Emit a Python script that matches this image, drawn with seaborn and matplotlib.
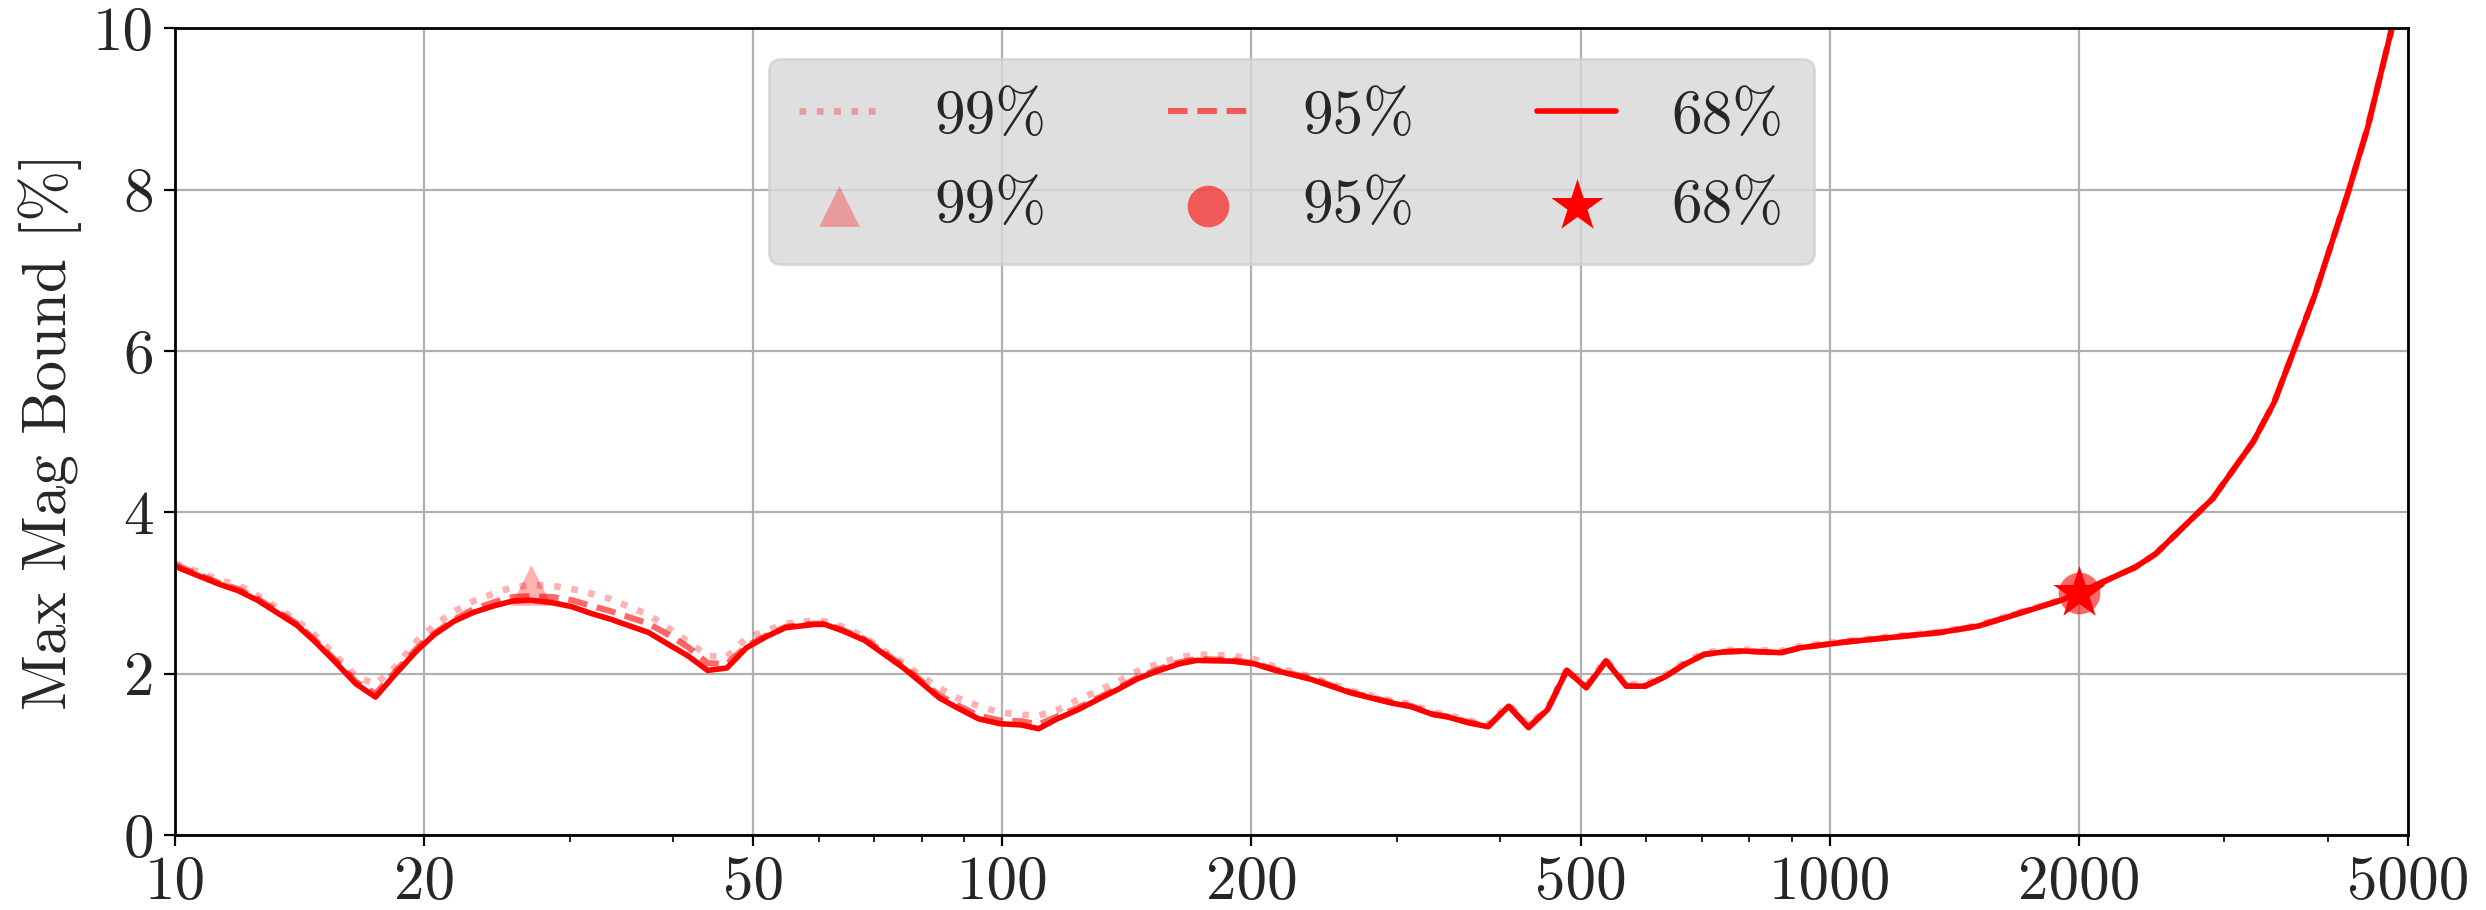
import numpy as np
import pandas as pd
import matplotlib
matplotlib.use("Agg")
import matplotlib.pyplot as plt
import seaborn as sns
from matplotlib.ticker import LogLocator, NullFormatter, FixedLocator

# ---------------- data ----------------
freq = [10.0, 11.33, 11.91, 12.58, 14.04, 14.82, 15.65, 16.54, 17.47, 18.45,
        19.58, 20.58, 21.74, 22.96, 24.37, 25.61, 26.91, 28.56, 30.17, 31.87,
        33.49, 37.36, 39.67, 41.69, 44.03, 46.45, 49.05, 51.8, 54.7, 59.25,
        61.05, 64.15, 68.1, 71.55, 75.96, 79.83, 83.9, 88.2, 93.6, 99.3,
        105.4, 110.6, 116.5, 123.6, 131.2, 137.9, 145.7, 153.8, 163.3, 171.6,
        189.5, 201.6, 213.9, 236.4, 263.6, 294.1, 312.1, 331.3, 344.8, 365.9,
        386.6, 409.2, 432.5, 456.3, 481.1, 507.9, 536.6, 567.8, 598.5, 632.1,
        667.6, 705.2, 744.7, 786.6, 873.0, 920.5, 1034.6, 1358.6, 1512.6, 1610.0,
        1909.5, 2000.0, 2342.0, 2478.0, 2904.0, 3253.0, 3443.0, 3644.0, 3857.0, 4223.0,
        4470.0, 4784.0, 5000.0]

bound_68 = [3.33, 3.105, 3.03, 2.91, 2.60, 2.38, 2.135, 1.875, 1.71, 1.99,
            2.28, 2.485, 2.65, 2.76, 2.845, 2.90, 2.91, 2.88, 2.83, 2.745,
            2.68, 2.51, 2.35, 2.22, 2.04, 2.07, 2.32, 2.457, 2.57, 2.61,
            2.61, 2.53, 2.415, 2.26, 2.07, 1.887, 1.70, 1.577, 1.44, 1.38,
            1.364, 1.317, 1.44, 1.556, 1.693, 1.804, 1.937, 2.03, 2.12, 2.164,
            2.155, 2.122, 2.04, 1.928, 1.763, 1.64, 1.59, 1.494, 1.465, 1.391,
            1.342, 1.597, 1.33, 1.556, 2.04, 1.825, 2.155, 1.845, 1.845, 1.96,
            2.114, 2.238, 2.27, 2.28, 2.26, 2.32, 2.387, 2.51, 2.59, 2.675,
            2.914, 3.0, 3.32, 3.485, 4.17, 4.88, 5.355, 6.02, 6.69, 7.93,
            8.77, 10.01, 10.7]

bound_95 = [3.35, 3.12, 3.05, 2.93, 2.62, 2.40, 2.16, 1.90, 1.75, 2.02,
            2.31, 2.50, 2.67, 2.80, 2.89, 2.95, 2.96, 2.95, 2.91, 2.84,
            2.78, 2.62, 2.47, 2.33, 2.13, 2.12, 2.34, 2.47, 2.58, 2.62,
            2.62, 2.54, 2.43, 2.28, 2.09, 1.91, 1.73, 1.61, 1.48, 1.42,
            1.41, 1.37, 1.47, 1.58, 1.71, 1.82, 1.95, 2.05, 2.14, 2.18,
            2.17, 2.13, 2.05, 1.94, 1.77, 1.65, 1.60, 1.50, 1.47, 1.40,
            1.35, 1.60, 1.34, 1.56, 2.04, 1.83, 2.16, 1.85, 1.85, 1.96,
            2.12, 2.24, 2.27, 2.28, 2.26, 2.32, 2.39, 2.51, 2.59, 2.68,
            2.915, 3.0, 3.32, 3.485, 4.17, 4.88, 5.355, 6.02, 6.69, 7.93,
            8.77, 10.01, 10.7]

bound_99 = [3.37, 3.16, 3.10, 2.97, 2.66, 2.46, 2.22, 1.97, 1.87, 2.08,
            2.40, 2.60, 2.77, 2.90, 3.00, 3.07, 3.10, 3.09, 3.05, 2.99,
            2.93, 2.73, 2.55, 2.40, 2.22, 2.21, 2.44, 2.53, 2.62, 2.66,
            2.65, 2.58, 2.46, 2.30, 2.13, 1.97, 1.82, 1.70, 1.60, 1.52,
            1.49, 1.48, 1.55, 1.68, 1.80, 1.90, 2.03, 2.12, 2.20, 2.24,
            2.22, 2.18, 2.08, 1.96, 1.79, 1.67, 1.62, 1.52, 1.49, 1.42,
            1.37, 1.62, 1.36, 1.58, 2.06, 1.85, 2.18, 1.87, 1.87, 1.98,
            2.14, 2.26, 2.29, 2.30, 2.28, 2.34, 2.40, 2.52, 2.60, 2.69,
            2.92, 3.0, 3.32, 3.485, 4.17, 4.88, 5.355, 6.02, 6.69, 7.93,
            8.77, 10.01, 10.7]

levels = ["99%", "95%", "68%"]
marker_freq = [26.9, 2000.0, 2000.0]
marker_bound = [3.1, 3.0, 3.0]

xtick_values = [10, 20, 50, 100, 200, 500, 1000, 2000, 5000]
xtick_labels = ["10", "20", "50", "100", "200", "500", "1000", "2000", "5000"]
ytick_values = [0, 2, 4, 6, 8, 10]

# ---------------- style ----------------
sns.set_style("white")
plt.rcParams["font.family"] = ["serif"]
plt.rcParams["font.serif"] = ["cmr10", "DejaVu Serif"]
plt.rcParams["mathtext.fontset"] = "cm"
plt.rcParams["axes.unicode_minus"] = False
plt.rcParams["axes.formatter.use_mathtext"] = True

FS = 22
fig, ax = plt.subplots(figsize=(12.43, 4.55), dpi=200)
fig.subplots_adjust(left=0.0704, right=0.9686, top=0.969, bottom=0.0824)

df = pd.DataFrame({"freq": freq, "b68": bound_68, "b95": bound_95, "b99": bound_99})

sns.lineplot(data=df, x="freq", y="b99", ax=ax, color="red", alpha=0.3,
             linestyle=(0, (1, 1.6)), linewidth=2.4, estimator=None, sort=False,
             label=levels[0])
sns.lineplot(data=df, x="freq", y="b95", ax=ax, color="red", alpha=0.6,
             linestyle=(0, (3.2, 1.6)), linewidth=2.2, estimator=None, sort=False,
             label=levels[1])
sns.lineplot(data=df, x="freq", y="b68", ax=ax, color="red", alpha=1.0,
             linestyle="-", linewidth=2.0, estimator=None, sort=False,
             label=levels[2])

sns.scatterplot(x=[marker_freq[0]], y=[marker_bound[0]], ax=ax, marker="^", s=215,
                color="red", alpha=0.3, linewidth=0, zorder=5, label=levels[0])
sns.scatterplot(x=[marker_freq[1]], y=[marker_bound[1]], ax=ax, marker="o", s=225,
                color="red", alpha=0.6, linewidth=0, zorder=5, label=levels[1])
sns.scatterplot(x=[marker_freq[2]], y=[marker_bound[2]], ax=ax, marker="*", s=390,
                color="red", alpha=1.0, linewidth=0, zorder=6, label=levels[2])

ax.set_xscale("log")
ax.set_xlim(10, 5000)
ax.set_ylim(0, 10)
ax.xaxis.set_major_locator(FixedLocator(xtick_values))
ax.set_xticks(xtick_values, labels=xtick_labels)
ax.xaxis.set_minor_locator(LogLocator(base=10, subs=np.arange(2, 10), numticks=50))
ax.xaxis.set_minor_formatter(NullFormatter())
ax.set_yticks(ytick_values, labels=[str(v) for v in ytick_values])

ax.grid(True, which="major", color="#b0b0b0", linewidth=0.8)
ax.tick_params(axis="both", which="major", labelsize=FS, length=4, width=0.8,
               direction="out", bottom=True, left=True, color="black")
ax.tick_params(axis="x", which="minor", length=2.5, width=0.6, bottom=True, color="black")
for s in ax.spines.values():
    s.set_color("black")
    s.set_linewidth(1.0)

ax.set_xlabel("")
ax.set_ylabel("Max Mag Bound [%]", fontsize=FS)

h, l = ax.get_legend_handles_labels()
order = [0, 3, 1, 4, 2, 5]
leg = ax.legend([h[i] for i in order], [l[i] for i in order], ncol=3,
                loc="upper center", fontsize=FS, frameon=True, fancybox=True,
                facecolor="#d8d8d8", edgecolor="#d0d0d0", framealpha=0.8,
                handlelength=1.3, handletextpad=0.9, columnspacing=2.0,
                borderpad=0.5, labelspacing=0.55)

fig.savefig("out.png", dpi=200)
